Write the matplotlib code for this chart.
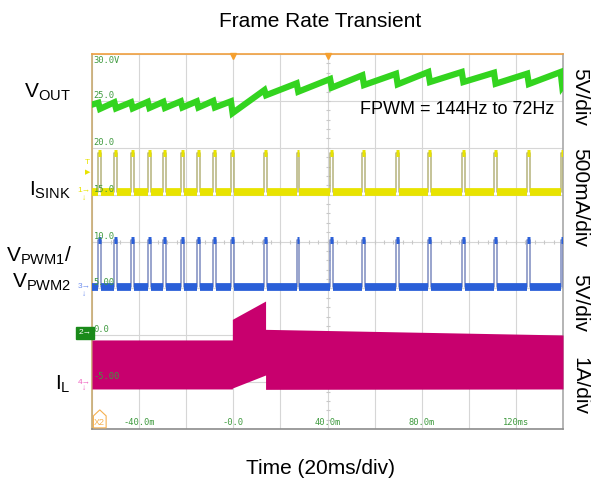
import numpy as np
from matplotlib import pyplot as plt
from matplotlib.patches import Polygon

plt.rcParams['font.family'] = ['Liberation Sans', 'DejaVu Sans']
plt.rcParams['mathtext.fontset'] = 'custom'
plt.rcParams['mathtext.rm'] = 'Liberation Sans'

# pwm pulses (ms)
pulse_t = [-57.3, -50.5, -43.4, -36.3, -29.7, -22.3, -15.5, -8.5, -1.0,
           13.2, 26.9, 41.1, 54.8, 69.1, 82.8, 97.0, 110.7, 124.8, 139.0]
pulse_w = 1.2

# VOUT sawtooth (screen volts): value just before / just after each pulse
vout_start = 24.6
vout_peak = [24.8, 24.85, 24.85, 24.9, 24.9, 24.95, 24.95, 25.0, 24.95,
             26.15, 26.87, 27.33, 27.73, 27.89, 28.08, 28.08, 28.0, 27.9, 28.08]
vout_low = [24.15, 24.2, 24.2, 24.25, 24.25, 24.3, 24.3, 24.3, 23.7,
            25.6, 25.98, 26.41, 26.69, 26.77, 27.01, 27.01, 26.83, 26.8, 26.5]
vout_end = 26.6

# ISINK and VPWM levels (screen volts)
isink_base, isink_top = 15.3, 19.45
vpwm_base, vpwm_top = 5.18, 10.16

# IL envelope
il_t = [-60, -0.4, -0.4, 13.7, 13.7, 140]
il_top = [-0.5, -0.5, 1.7, 3.65, 0.63, 0.03]
il_bot = [-5.73, -5.73, -5.63, -4.24, -5.77, -5.73]

ylab_v = [25, 20, 15, 10, 5, 0, -5]
ylab_s = ['25.0', '20.0', '15.0', '10.0', '5.00', '0.0', '-5.00']
xlab_v = [-40, 0, 40, 80, 120]
xlab_s = ['-40.0m', '-0.0', '40.0m', '80.0m', '120ms']

W, H = 591, 479
def fx(x): return x / W
def fy(y): return 1 - y / H

fig = plt.figure(figsize=(5.91, 4.79), dpi=100)
ax = fig.add_axes([fx(92), fy(429), fx(563) - fx(92), fy(54) - fy(429)])
ax.set_xlim(-60, 140)
ax.set_ylim(-10, 30)
ax.set_xticks(np.arange(-60, 141, 20))
ax.set_yticks(np.arange(-10, 31, 5))
ax.grid(color='#d6d6d6', lw=0.8)
ax.tick_params(length=0, labelbottom=False, labelleft=False)
ax.set_axisbelow(True)
for s, c in [('top', '#f0a040'), ('left', '#c8aa70'), ('bottom', '#8c8c8c'), ('right', '#a8a8a8')]:
    ax.spines[s].set_color(c)
    ax.spines[s].set_linewidth(1.2)

# center crosshair minor ticks
mx = np.arange(-60, 140.1, 4)
ax.plot(mx, np.full_like(mx, 10.0), '|', color='#c8c8c8', ms=3, mew=0.8)
my = np.arange(-10, 30.1, 1)
ax.plot(np.full_like(my, 40.0), my, '_', color='#c8c8c8', ms=3, mew=0.8)

# VOUT
vt = [-60]
vv = [vout_start]
for tp, pk, lo in zip(pulse_t, vout_peak, vout_low):
    vt += [tp, tp + 0.7]
    vv += [pk, lo]
vt.append(140)
vv.append(vout_end)
ax.plot(vt, vv, color='#33d41f', lw=4.5, solid_joinstyle='miter', zorder=3)


def pulse_trace(base, top, thin, thick):
    t = [-60]
    v = [base]
    for tp in pulse_t:
        t += [tp, tp, tp + pulse_w, tp + pulse_w]
        v += [base, top, top, base]
    t.append(140)
    v.append(base)
    ax.plot(t, v, color=thin, lw=1.1, zorder=3)
    starts = [-60] + [tp + pulse_w for tp in pulse_t]
    ends = pulse_t + [140]
    ax.hlines([base] * len(starts), starts, ends, color=thick, lw=5.6, capstyle='butt', zorder=3)
    ax.hlines([top] * len(pulse_t), pulse_t, [tp + pulse_w for tp in pulse_t], color=thick,
              lw=5.0, capstyle='butt', zorder=3)


pulse_trace(isink_base, isink_top, '#b5b37c', '#e8e300')
pulse_trace(vpwm_base, vpwm_top, '#7d8cc0', '#2a5fd8')

# IL
ax.fill_between(il_t, il_bot, il_top, color='#c8006e', lw=0, zorder=3)

# scope labels
lab = dict(family='DejaVu Sans Mono', fontsize=6.3, color='#3f9a3f', zorder=5)
ax.text(-59.3, 29.8, '30.0V', va='top', ha='left', **lab)
for v, s in zip(ylab_v, ylab_s):
    ax.text(-59.3, v + 0.1, s, va='bottom', ha='left', **lab)
for v, s in zip(xlab_v, xlab_s):
    ax.text(v, -9.35, s, va='center', ha='center', **lab)

# trigger / cursor marks
ax.plot([0, 40], [29.75, 29.75], 'v', color='#f5a030', ms=4.5, clip_on=False, zorder=6)
ax.add_patch(Polygon([[0.003, 0.003], [0.03, 0.003], [0.03, 0.035], [0.0165, 0.051], [0.003, 0.035]],
                     closed=True, fill=False, ec='#f5b050', lw=0.8, transform=ax.transAxes, zorder=6))
ax.text(0.0165, 0.018, 'X2', transform=ax.transAxes, color='#f5b050', fontsize=6.5,
        ha='center', va='center', zorder=6)

# channel markers on the left edge
fig.text(fx(87), fy(163), 'T', color='#e8e300', fontsize=6, ha='center', va='center')
fig.text(fx(88), fy(173), '\u25b6', color='#e8e300', fontsize=5, ha='center', va='center')
fig.text(fx(84), fy(191), '1\u2192', color='#e8e300', fontsize=6, ha='center', va='center')
fig.text(fx(84), fy(198), '\u2193', color='#e8e300', fontsize=6, ha='center', va='center')
fig.text(fx(84), fy(287), '3\u2192', color='#6f8fef', fontsize=6, ha='center', va='center')
fig.text(fx(84), fy(294), '\u2193', color='#6f8fef', fontsize=6, ha='center', va='center')
fig.text(fx(85), fy(333), '2\u2192', color='white', fontsize=6, ha='center', va='center',
         bbox=dict(boxstyle='square,pad=0.25', fc='#1a8a1a', ec='#1a8a1a'))
fig.text(fx(84), fy(382), '4\u2192', color='#f060c0', fontsize=6, ha='center', va='center')
fig.text(fx(84), fy(389), '\u2193', color='#f060c0', fontsize=6, ha='center', va='center')

# annotations
fig.text(fx(320), fy(27), 'Frame Rate Transient', fontsize=15, ha='center', va='baseline')
fig.text(fx(320), fy(474), 'Time (20ms/div)', fontsize=15, ha='center', va='baseline')
ax.text(fx(360), fy(114), 'FPWM = 144Hz to 72Hz', fontsize=13, ha='left', va='baseline',
        transform=fig.transFigure, zorder=6)

fs = 15
fig.text(fx(71), fy(98), r'$\mathregular{V_{OUT}}$', fontsize=fs, ha='right', va='baseline')
fig.text(fx(71), fy(196), r'$\mathregular{I_{SINK}}$', fontsize=fs, ha='right', va='baseline')
fig.text(fx(72), fy(262), r'$\mathregular{V_{PWM1}/}$', fontsize=fs, ha='right', va='baseline')
fig.text(fx(71), fy(288), r'$\mathregular{V_{PWM2}}$', fontsize=fs, ha='right', va='baseline')
fig.text(fx(71), fy(390), r'$\mathregular{I_{L}}$', fontsize=fs, ha='right', va='baseline')

for yc, s in [(97, '5V/div'), (198, '500mA/div'), (303, '5V/div'), (386, '1A/div')]:
    fig.text(fx(580), fy(yc), s, fontsize=fs, rotation=270, ha='center', va='center')

fig.savefig('out.png', dpi=100)
